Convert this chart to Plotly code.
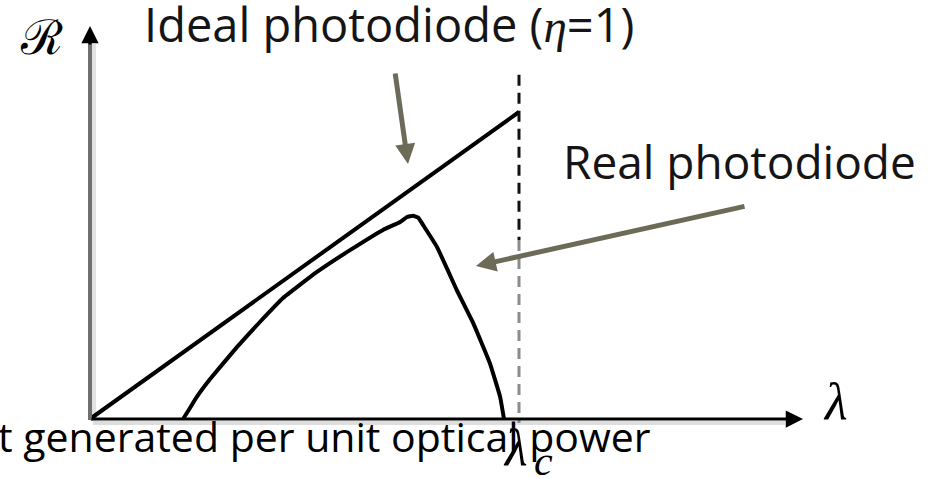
import plotly.graph_objects as go

# ---- data (normalised: lambda / lambda_c, responsivity / ideal value at lambda_c)
lam_ideal = [0.0, 1.0]
R_ideal = [0.0, 1.0]

lam_real = [0.217, 0.233, 0.249, 0.280, 0.343, 0.396, 0.450, 0.529, 0.606,
            0.683, 0.723, 0.739, 0.753, 0.765, 0.781, 0.809, 0.855, 0.893,
            0.932, 0.956, 0.965]
R_real = [0.000, 0.036, 0.072, 0.130, 0.235, 0.316, 0.394, 0.479, 0.550,
          0.616, 0.642, 0.658, 0.662, 0.656, 0.622, 0.560, 0.420, 0.313,
          0.182, 0.072, 0.000]

lam_cut = [1.0, 1.0]
R_cut_top = [1.121, 0.583]
R_cut_bottom = [0.583, -0.013]

W, H = 935, 479
X0, Y0, SX, SY = 90, 419, 429, 307  # origin pixel & pixel per unit


def px(x):
    return (x - X0) / SX


def py(y):
    return (Y0 - y) / SY


fig = go.Figure()

# ideal photodiode
fig.add_trace(go.Scatter(x=lam_ideal, y=R_ideal, mode="lines",
                         line=dict(color="black", width=4), hoverinfo="skip"))
# real photodiode
fig.add_trace(go.Scatter(x=lam_real, y=R_real, mode="lines",
                         line=dict(color="black", width=4, shape="spline", smoothing=0.3),
                         hoverinfo="skip"))
# cut-off wavelength dashed line
fig.add_trace(go.Scatter(x=lam_cut, y=R_cut_top, mode="lines",
                         line=dict(color="#111111", width=3, dash="11px,7px"), hoverinfo="skip"))
fig.add_trace(go.Scatter(x=lam_cut, y=R_cut_bottom, mode="lines",
                         line=dict(color="#8c8c8c", width=3, dash="11px,7px"), hoverinfo="skip"))

shapes = [
    # shadows of axes
    dict(type="line", xref="x", yref="y", x0=px(93), x1=px(785), y0=py(423), y1=py(423),
         line=dict(color="#dedede", width=4), layer="below"),
    dict(type="line", xref="x", yref="y", x0=px(94), x1=px(94), y0=py(421), y1=py(44),
         line=dict(color="#e2e2e2", width=4), layer="below"),
    # y axis shaft (grey)
    dict(type="line", xref="x", yref="y", x0=px(90), x1=px(90), y0=py(420), y1=py(42),
         line=dict(color="#707070", width=4)),
]

ann = []
# axis arrow heads
ann.append(dict(x=px(90), y=py(26), ax=px(90), ay=py(46), xref="x", yref="y",
                axref="x", ayref="y", showarrow=True, arrowhead=2, arrowwidth=3,
                arrowsize=1.15, arrowcolor="black", text=""))
ann.append(dict(x=px(803), y=py(419), ax=px(90), ay=py(419), xref="x", yref="y",
                axref="x", ayref="y", showarrow=True, arrowhead=2, arrowwidth=3,
                arrowsize=1.15, arrowcolor="black", text=""))
# grey pointer arrows
ann.append(dict(x=px(408), y=py(164), ax=px(395), ay=py(72), xref="x", yref="y",
                axref="x", ayref="y", showarrow=True, arrowhead=2, arrowwidth=5,
                arrowsize=0.8, arrowcolor="#6b6b58", text=""))
ann.append(dict(x=px(476), y=py(266), ax=px(746), ay=py(206), xref="x", yref="y",
                axref="x", ayref="y", showarrow=True, arrowhead=2, arrowwidth=5,
                arrowsize=0.8, arrowcolor="#6b6b58", text=""))

TXT = "Open Sans"
ann.append(dict(x=px(142), y=py(24), xref="x", yref="y", xanchor="left", yanchor="middle",
                showarrow=False,
                text="Ideal photodiode (<span style='font-family:Liberation Serif'><i>η</i></span>=1)",
                font=dict(family=TXT, size=47, color="#151515")))
ann.append(dict(x=px(561), y=py(161), xref="x", yref="y", xanchor="left", yanchor="middle",
                showarrow=False, text="Real photodiode",
                font=dict(family=TXT, size=46, color="#151515")))
ann.append(dict(x=0, y=py(436), xref="paper", yref="y", xanchor="left", yanchor="middle",
                xshift=-4, showarrow=False, text="t generated per unit optical power",
                font=dict(family=TXT, size=41, color="black")))
ann.append(dict(x=px(41), y=py(37), xref="x", yref="y", xanchor="center", yanchor="middle",
                showarrow=False, text="ℛ",
                font=dict(family="DejaVu Serif", size=48, color="black")))
ann.append(dict(x=px(835), y=py(401), xref="x", yref="y", xanchor="center", yanchor="middle",
                showarrow=False, text="<i>λ</i>",
                font=dict(family="Liberation Serif", size=52, color="black")))
ann.append(dict(x=px(515), y=py(447), xref="x", yref="y", xanchor="center", yanchor="middle",
                showarrow=False, text="<i>λ</i>",
                font=dict(family="Liberation Serif", size=52, color="black")))
ann.append(dict(x=px(543), y=py(461), xref="x", yref="y", xanchor="center", yanchor="middle",
                showarrow=False, text="<i>c</i>",
                font=dict(family="Liberation Serif", size=42, color="black")))

fig.update_layout(
    width=W, height=H, autosize=False,
    margin=dict(l=0, r=0, t=0, b=0),
    paper_bgcolor="white", plot_bgcolor="white",
    showlegend=False,
    xaxis=dict(range=[px(0), px(W)], visible=False, fixedrange=True),
    yaxis=dict(range=[py(H), py(0)], visible=False, fixedrange=True),
    shapes=shapes, annotations=ann,
)

fig.write_html("out.html", config={"displayModeBar": False, "staticPlot": True},
               post_script="document.body.style.margin='0';document.body.style.overflow='hidden';")
